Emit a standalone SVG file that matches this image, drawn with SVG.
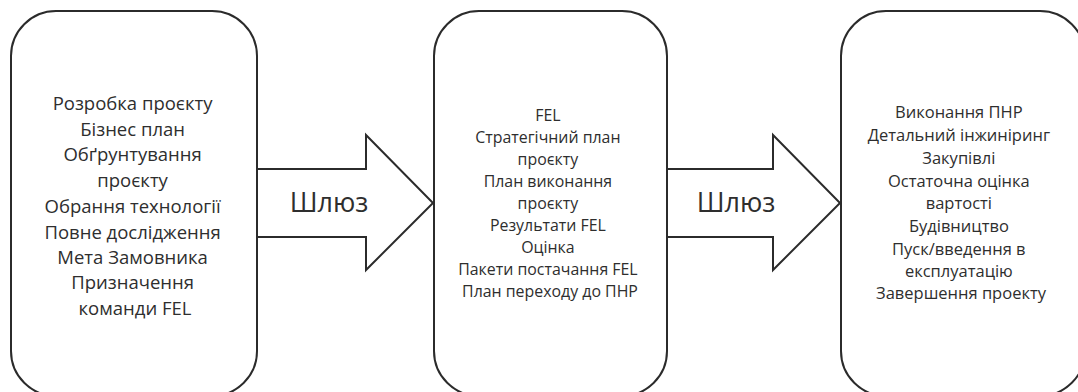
<svg xmlns="http://www.w3.org/2000/svg" width="1078" height="392" viewBox="0 0 1078 392">
  <style>
    .stage { fill: #ffffff; stroke: #2b2b2b; stroke-width: 2; }
    .gate { fill: #ffffff; stroke: #2b2b2b; stroke-width: 2; stroke-linejoin: miter; }
    .txt { font-family: "Open Sans", "Noto Sans", "DejaVu Sans", sans-serif; fill: #2e2e2e; text-anchor: middle; }
    .t1 { font-size: 18.5px; }
    .t2 { font-size: 15.9px; }
    .t3 { font-size: 16.5px; }
    .gtxt { font-family: "Open Sans", "Noto Sans", "DejaVu Sans", sans-serif; fill: #2e2e2e; font-size: 27px; text-anchor: middle; }
  </style>
  <rect x="0" y="0" width="1078" height="392" fill="#ffffff"/>

  <!-- Stage 1 -->
  <g id="stage-1">
    <rect class="stage" x="11" y="11" width="246" height="385" rx="45" ry="45"/>
    <text class="txt t1" x="135">
      <tspan x="135" y="110">Розробка проєкту</tspan>
      <tspan x="135" y="136">Бізнес план</tspan>
      <tspan x="135" y="161">Обґрунтування</tspan>
      <tspan x="135" y="187">проєкту</tspan>
      <tspan x="135" y="213">Обрання технології</tspan>
      <tspan x="135" y="239">Повне дослідження</tspan>
      <tspan x="135" y="264">Мета Замовника</tspan>
      <tspan x="135" y="289">Призначення</tspan>
      <tspan x="135" y="315">команди FEL</tspan>
    </text>
  </g>

  <!-- Stage 2 -->
  <g id="stage-2">
    <rect class="stage" x="434" y="11" width="233" height="385" rx="45" ry="45"/>
    <text class="txt t2" x="550">
      <tspan x="550" y="121">FEL</tspan>
      <tspan x="550" y="143">Стратегічний план</tspan>
      <tspan x="550" y="165">проєкту</tspan>
      <tspan x="550" y="187">План виконання</tspan>
      <tspan x="550" y="209">проєкту</tspan>
      <tspan x="550" y="231">Результати FEL</tspan>
      <tspan x="550" y="253">Оцінка</tspan>
      <tspan x="550" y="275">Пакети постачання FEL</tspan>
      <tspan x="550" y="297">План переходу до ПНР</tspan>
    </text>
  </g>

  <!-- Stage 3 -->
  <g id="stage-3">
    <rect class="stage" x="841" y="11" width="244" height="385" rx="45" ry="45"/>
    <text class="txt t3" x="961">
      <tspan x="961" y="118">Виконання ПНР</tspan>
      <tspan x="961" y="141">Детальний інжиніринг</tspan>
      <tspan x="961" y="164">Закупівлі</tspan>
      <tspan x="961" y="187">Остаточна оцінка</tspan>
      <tspan x="961" y="209">вартості</tspan>
      <tspan x="961" y="232">Будівництво</tspan>
      <tspan x="961" y="255">Пуск/введення в</tspan>
      <tspan x="961" y="277">експлуатацію</tspan>
      <tspan x="961" y="299">Завершення проекту</tspan>
    </text>
  </g>

  <!-- Gate arrows between stages -->
  <g id="connectors">
    <g id="gate-1">
      <polygon class="gate" points="257,169 366,169 366,135 433,203 366,270 366,237 257,237"/>
      <text class="gtxt" x="329" y="212">Шлюз</text>
    </g>
    <g id="gate-2">
      <polygon class="gate" points="667,169 773,169 773,135 840,203 773,270 773,237 667,237"/>
      <text class="gtxt" x="736" y="212">Шлюз</text>
    </g>
  </g>
</svg>
